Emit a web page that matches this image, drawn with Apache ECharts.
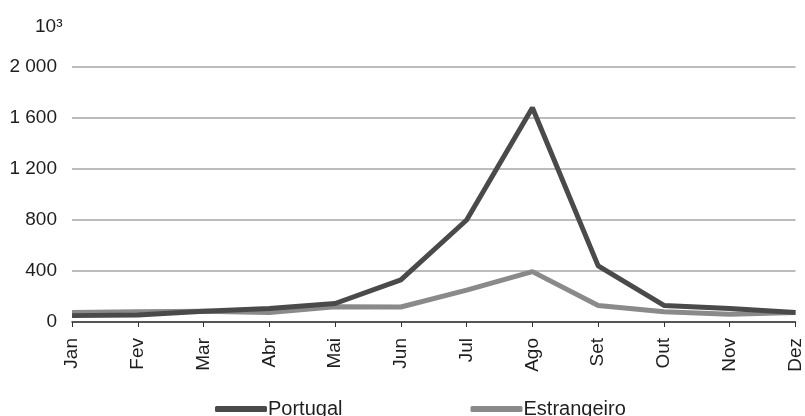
<!DOCTYPE html>
<html>
<head>
<meta charset="utf-8">
<script src="https://cdn.jsdelivr.net/npm/echarts@6/dist/echarts.min.js"></script>
<style>
  html, body { margin: 0; padding: 0; background: #fff; }
  #chart { width: 805px; height: 416px; }
</style>
</head>
<body>
<div id="chart"></div>
<script>
// Monthly values, thousands
const months = ['Jan', 'Fev', 'Mar', 'Abr', 'Mai', 'Jun', 'Jul', 'Ago', 'Set', 'Out', 'Nov', 'Dez'];
const portugal = [50, 55, 85, 105, 145, 330, 800, 1680, 440, 130, 105, 75];
const estrangeiro = [75, 80, 85, 75, 120, 118, 250, 395, 130, 80, 60, 75];
const yTicks = [0, 400, 800, 1200, 1600, 2000];
const unitLabel = '10³';

const chart = echarts.init(document.getElementById('chart'));
const font = 'Liberation Sans, Arial, sans-serif';
const textColor = '#1e1e1e';

chart.setOption({
  animation: false,
  textStyle: { fontFamily: font },
  grid: { left: 72, right: 3, top: 67, bottom: 94 },
  graphic: [{
    type: 'text', left: 35, top: 17,
    style: { text: unitLabel, font: '19px ' + font, fill: textColor }
  }],
  legend: {
    top: 394, left: 210, itemGap: 128,
    itemWidth: 52, itemHeight: 6,
    icon: 'roundRect',
    textStyle: { fontSize: 20, color: textColor, padding: [0, 0, 0, -4] },
    data: ['Portugal', 'Estrangeiro']
  },
  xAxis: {
    type: 'category',
    data: months,
    boundaryGap: false,
    axisLine: { lineStyle: { color: '#333', width: 1.5 } },
    axisTick: { alignWithLabel: true, length: 5, lineStyle: { color: '#333' } },
    axisLabel: { rotate: 90, fontSize: 19, color: textColor, margin: 16, interval: 0 }
  },
  yAxis: {
    type: 'value',
    min: yTicks[0], max: yTicks[yTicks.length - 1], interval: yTicks[1] - yTicks[0],
    axisLine: { show: false },
    axisTick: { show: false },
    splitLine: { lineStyle: { color: '#a6a6a6', width: 1.5 } },
    axisLabel: {
      fontSize: 19, color: textColor, margin: 15,
      formatter: v => String(v).replace(/\B(?=(\d{3})+(?!\d))/g, ' ')
    }
  },
  series: [
    {
      name: 'Portugal', type: 'line', data: portugal,
      symbol: 'none', z: 3,
      lineStyle: { color: '#4a4a4a', width: 5 },
      itemStyle: { color: '#4a4a4a' }
    },
    {
      name: 'Estrangeiro', type: 'line', data: estrangeiro,
      symbol: 'none', z: 2,
      lineStyle: { color: '#8a8a8a', width: 5 },
      itemStyle: { color: '#8a8a8a' }
    }
  ]
});
</script>
</body>
</html>
